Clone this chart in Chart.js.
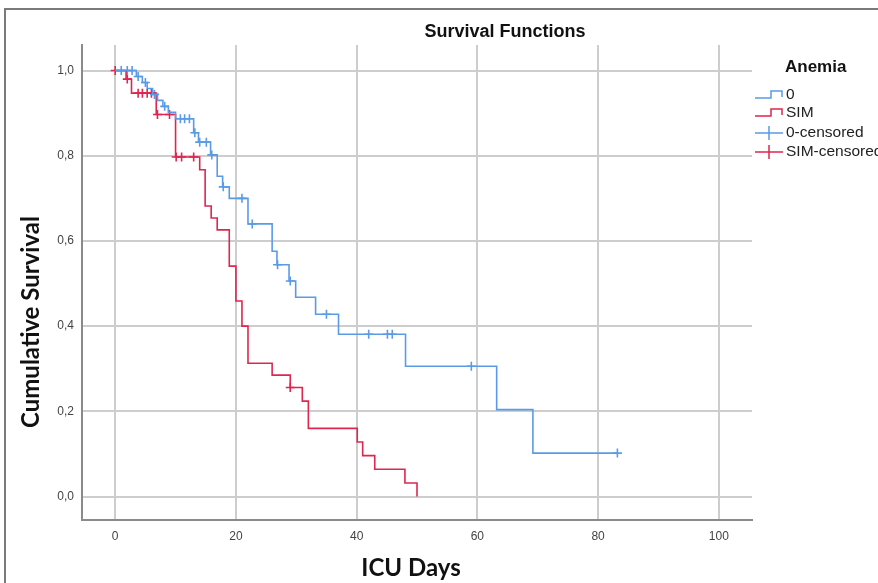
<!DOCTYPE html>
<html>
<head>
<meta charset="utf-8">
<script src="https://cdn.jsdelivr.net/npm/chart.js@4.4.1/dist/chart.umd.min.js"></script>
<style>
  html, body { margin: 0; padding: 0; background: #fff; }
  #wrap { width: 878px; height: 583px; }
</style>
</head>
<body>
<div id="wrap"><canvas id="km" width="878" height="583"></canvas></div>
<script>
// Kaplan-Meier steps, group "0"
const zeroTime = [0, 3.5, 4.5, 5.3, 6.2, 7.0, 7.9, 8.8, 10.0, 13.0, 13.8, 15.8, 16.9, 17.8, 18.9, 22.0, 26.0, 26.8, 28.8, 29.9, 33.2, 37.0, 48.1, 63.2, 69.2, 83.2];
const zeroSurv = [1.0, 0.986, 0.972, 0.958, 0.944, 0.930, 0.916, 0.902, 0.887, 0.854, 0.832, 0.802, 0.752, 0.727, 0.700, 0.640, 0.576, 0.544, 0.506, 0.468, 0.428, 0.381, 0.306, 0.204, 0.102, 0.102];
const zeroCensTime = [1, 2, 2.8, 3.8, 5.0, 6.5, 8.2, 10.8, 11.5, 12.3, 13.2, 14.0, 15.1, 16.0, 17.9, 21.0, 22.7, 26.9, 29.0, 35.0, 42.0, 45.1, 45.9, 59.0, 83.2];
const zeroCensSurv = [1.0, 1.0, 1.0, 0.986, 0.972, 0.944, 0.916, 0.887, 0.887, 0.887, 0.854, 0.832, 0.832, 0.802, 0.727, 0.700, 0.640, 0.544, 0.506, 0.428, 0.381, 0.381, 0.381, 0.306, 0.102];

// group "SIM"
const simTime = [0, 1.8, 2.7, 6.8, 10.0, 14.0, 14.9, 15.9, 16.9, 18.9, 20.0, 21.0, 22.0, 26.0, 29.0, 31.0, 32.0, 40.1, 41.0, 43.0, 48.0, 50.0];
const simSurv = [1.0, 0.980, 0.947, 0.897, 0.797, 0.767, 0.682, 0.654, 0.626, 0.541, 0.459, 0.400, 0.313, 0.285, 0.256, 0.224, 0.160, 0.128, 0.096, 0.064, 0.032, 0.0];
const simCensTime = [0, 2.0, 3.8, 4.5, 5.3, 6.0, 7.0, 9.0, 10.1, 11.0, 13.0, 29.0];
const simCensSurv = [1.0, 0.980, 0.947, 0.947, 0.947, 0.947, 0.897, 0.897, 0.797, 0.797, 0.797, 0.256];

const xTicks = [0, 20, 40, 60, 80, 100];
const yTicks = [0.0, 0.2, 0.4, 0.6, 0.8, 1.0];
const legendLabels = ['0', 'SIM', '0-censored', 'SIM-censored'];

const blue = '#5b9be6';
const red = '#e0264f';

function pts(xs, ys) { return xs.map((x, i) => ({ x: x, y: ys[i] })); }

// frame, titles and legend drawn on top of the chart
const decor = {
  id: 'decor',
  afterDraw(chart) {
    const c = chart.ctx;
    c.save();
    c.strokeStyle = '#7a7a7a';
    c.lineWidth = 2;
    c.beginPath();
    c.moveTo(5, 583); c.lineTo(5, 9); c.lineTo(878, 9);
    c.stroke();

    c.fillStyle = '#111';
    c.textAlign = 'center';
    c.textBaseline = 'middle';
    c.font = 'bold 18px "Liberation Sans", Arial, sans-serif';
    c.fillText('Survival Functions', 505, 32);

    c.font = 'bold 24px Lato, "Open Sans", sans-serif';
    c.fillText('ICU Days', 411, 568);
    c.save();
    c.translate(31, 322);
    c.rotate(-Math.PI / 2);
    c.fillText('Cumulative Survival', 0, 0);
    c.restore();

    // legend
    c.textAlign = 'left';
    c.font = 'bold 17px "Liberation Sans", Arial, sans-serif';
    c.fillText('Anemia', 785, 67);
    c.font = '15.5px "Liberation Sans", Arial, sans-serif';
    const rows = [95, 113, 133, 152];
    const cols = [blue, red, blue, red];
    rows.forEach((y, i) => {
      c.strokeStyle = cols[i];
      c.lineWidth = 1.5;
      c.beginPath();
      if (i < 2) {
        c.moveTo(755, y + 3); c.lineTo(771, y + 3); c.lineTo(771, y - 4);
        c.lineTo(782, y - 4); c.lineTo(782, y + 2);
      } else {
        c.moveTo(755, y); c.lineTo(783, y);
        c.moveTo(769, y - 7); c.lineTo(769, y + 7);
      }
      c.stroke();
      c.fillStyle = '#222';
      c.fillText(legendLabels[i], 786, y);
    });
    c.restore();
  }
};

const tickFont = { family: '"Liberation Sans", Arial, sans-serif', size: 12 };

new Chart(document.getElementById('km'), {
  type: 'line',
  data: {
    datasets: [
      { label: '0', data: pts(zeroTime, zeroSurv), stepped: 'before', borderColor: blue, borderWidth: 1.6, pointRadius: 0, fill: false },
      { label: 'SIM', data: pts(simTime, simSurv), stepped: 'before', borderColor: red, borderWidth: 1.6, pointRadius: 0, fill: false },
      { label: '0-censored', type: 'scatter', data: pts(zeroCensTime, zeroCensSurv), pointStyle: 'cross', pointRadius: 4.5, borderColor: blue, borderWidth: 1.6, showLine: false },
      { label: 'SIM-censored', type: 'scatter', data: pts(simCensTime, simCensSurv), pointStyle: 'cross', pointRadius: 4.5, borderColor: red, borderWidth: 1.6, showLine: false }
    ]
  },
  options: {
    responsive: false,
    animation: false,
    layout: { padding: { left: 0, top: 45, right: 126, bottom: 0 } },
    plugins: { legend: { display: false }, title: { display: false }, tooltip: { enabled: false } },
    scales: {
      x: {
        type: 'linear',
        min: -5.5,
        max: 105.5,
        afterBuildTicks: s => { s.ticks = xTicks.map(v => ({ value: v })); },
        afterFit: s => { s.height = 63; },
        grid: { color: '#cdcdcd', lineWidth: 2, drawTicks: false },
        border: { color: '#8a8a8a', width: 2 },
        ticks: { padding: 9, color: '#444', font: tickFont }
      },
      y: {
        min: -0.055,
        max: 1.06,
        afterBuildTicks: s => { s.ticks = yTicks.map(v => ({ value: v })); },
        afterFit: s => { s.width = 82; },
        grid: { color: '#cdcdcd', lineWidth: 2, drawTicks: false },
        border: { color: '#8a8a8a', width: 2 },
        ticks: { padding: 8, color: '#444', font: tickFont, callback: v => v.toFixed(1).replace('.', ',') }
      }
    }
  },
  plugins: [decor]
});
</script>
</body>
</html>
